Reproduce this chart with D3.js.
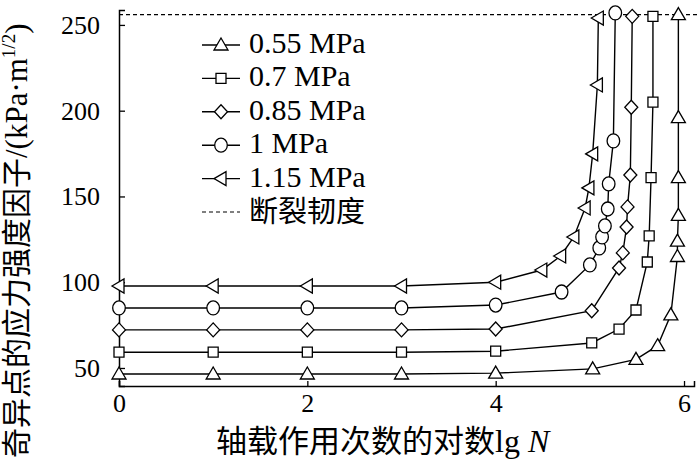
<!DOCTYPE html>
<html>
<head>
<meta charset="utf-8">
<script src="https://cdn.jsdelivr.net/npm/d3@7"></script>
<style>
  html, body { margin: 0; padding: 0; background: #fff; }
  svg { display: block; }
</style>
</head>
<body>
<svg id="chart"></svg>
<script>
// series names (legend order)
const seriesNames = ['0.55 MPa', '0.7 MPa', '0.85 MPa', '1 MPa', '1.15 MPa'];
const toughnessLabel = '断裂韧度';

// lg N values per series
const lgN055 = [0, 1, 2, 3, 4, 5.03, 5.49, 5.72, 5.86, 5.93, 5.93, 5.94, 5.94, 5.94, 5.94];
const lgN070 = [0, 1, 2, 3, 4, 5.02, 5.31, 5.49, 5.61, 5.63, 5.65, 5.67, 5.67];
const lgN085 = [0, 1, 2, 3, 4, 5.02, 5.31, 5.35, 5.39, 5.40, 5.43, 5.44, 5.45];
const lgN100 = [0, 1, 2, 3, 4, 4.70, 5.00, 5.10, 5.13, 5.16, 5.19, 5.20, 5.25, 5.27];
const lgN115 = [0, 1, 2, 3, 4, 4.49, 4.69, 4.83, 4.95, 4.99, 5.03, 5.08, 5.09];

// stress intensity factor (kPa·m^1/2) per series
const k055 = [46.5, 46.5, 46.5, 46.5, 47, 49.5, 55, 63, 81, 115, 124, 139, 161, 196, 256];
const k070 = [59.2, 59.2, 59.2, 59.2, 59.8, 64.6, 72.7, 83.8, 111.8, 127, 161, 205, 255];
const k085 = [72.2, 72.2, 72.2, 72.2, 72.7, 83.4, 108.3, 117.1, 132.2, 143.9, 162.5, 202, 255];
const k100 = [85, 85, 85, 85, 86.7, 94.3, 110.1, 120, 126.4, 132.8, 142.7, 157.3, 182.4, 257];
const k115 = [97.8, 97.8, 97.8, 97.8, 100, 107.1, 115.3, 126.4, 143.3, 155, 174.8, 215, 254];

const fractureToughness = 256;

// axis ticks
const xTicks = [0, 2, 4, 6];
const yTicks = [50, 100, 150, 200, 250];

const width = 700;
const height = 464;
const margin = { top: 10, right: 6, bottom: 78, left: 119 };
const innerWidth = width - margin.left - margin.right;
const innerHeight = height - margin.top - margin.bottom;

const serif = '"Liberation Serif", "Times New Roman", serif';
const cjk = '"Noto Sans CJK SC", sans-serif';

const svg = d3.select('#chart').attr('width', width).attr('height', height);
const g = svg.append('g').attr('transform', `translate(${margin.left},${margin.top})`);

const x = d3.scaleLinear().domain([0, 6.106]).range([0, innerWidth]);
const y = d3.scaleLinear().domain([39.5, 258.7]).range([innerHeight, 0]);

// marker shapes
const shapes = [
  'M0,-7L7,5L-7,5Z',           // triangle up
  'M-5,-5H5V5H-5Z',            // square
  'M0,-7L6.5,0L0,7L-6.5,0Z',   // diamond
  null,                        // circle (ellipse)
  'M-7,0L5,-7L5,7Z'            // triangle left
];

function drawMarker(sel, i) {
  if (shapes[i]) {
    sel.append('path').attr('d', shapes[i]);
  } else {
    sel.append('ellipse').attr('rx', 6.3).attr('ry', 7);
  }
}

// axes
const xAxis = g.append('g')
  .attr('transform', `translate(0,${innerHeight})`)
  .call(d3.axisBottom(x).tickValues(xTicks).tickSize(-5).tickPadding(8).tickFormat(d3.format('d')));
const yAxis = g.append('g')
  .call(d3.axisLeft(y).tickValues(yTicks).tickSize(-6).tickPadding(19).tickFormat(d3.format('d')));

[xAxis, yAxis].forEach(a => {
  a.select('.domain').attr('stroke', '#000').attr('stroke-width', 1.5);
  a.selectAll('.tick line').attr('stroke', '#000').attr('stroke-width', 1.3);
  a.selectAll('.tick text').attr('fill', '#000').style('font-family', serif).style('font-size', '26px');
});

// fracture toughness line
g.append('line')
  .attr('x1', 0).attr('x2', width - margin.left)
  .attr('y1', y(fractureToughness)).attr('y2', y(fractureToughness))
  .attr('stroke', '#000').attr('stroke-width', 1.2).attr('stroke-dasharray', '4,3');

// series
const lgNs = [lgN055, lgN070, lgN085, lgN100, lgN115];
const ks = [k055, k070, k085, k100, k115];
const line = d3.line().x(d => x(d[0])).y(d => y(d[1]));

seriesNames.forEach((name, i) => {
  const pts = lgNs[i].map((v, j) => [v, ks[i][j]]);
  g.append('path')
    .datum(pts)
    .attr('fill', 'none')
    .attr('stroke', '#000')
    .attr('stroke-width', 1.4)
    .attr('d', line);
  const m = g.append('g')
    .selectAll('g')
    .data(pts)
    .join('g')
    .attr('transform', d => `translate(${x(d[0])},${y(d[1])})`)
    .attr('fill', '#fff').attr('stroke', '#000').attr('stroke-width', 1.3);
  m.each(function () { drawMarker(d3.select(this), i); });
});

// legend
const legend = svg.append('g');
const rowY = i => 45 + i * 33.4;
seriesNames.forEach((name, i) => {
  const row = legend.append('g').attr('transform', `translate(0,${rowY(i)})`);
  row.append('line').attr('x1', 202).attr('x2', 240).attr('stroke', '#000').attr('stroke-width', 1.4);
  const mk = row.append('g').attr('transform', 'translate(221,0)')
    .attr('fill', '#fff').attr('stroke', '#000').attr('stroke-width', 1.3);
  drawMarker(mk, i);
  row.append('text').attr('x', 249).attr('y', 8)
    .style('font-family', serif).style('font-size', '30px').text(name);
});
const tRow = legend.append('g').attr('transform', `translate(0,${rowY(5)})`);
tRow.append('line').attr('x1', 202).attr('x2', 240)
  .attr('stroke', '#000').attr('stroke-width', 1.2).attr('stroke-dasharray', '4,3');
tRow.append('text').attr('x', 249).attr('y', 10)
  .style('font-family', cjk).style('font-size', '29px').text(toughnessLabel);

// x label
const xl = svg.append('text').attr('x', 216).attr('y', 452).style('font-size', '31px');
xl.append('tspan').style('font-family', cjk).text('轴载作用次数的对数');
xl.append('tspan').style('font-family', serif).style('font-size', '32px').text('lg ');
xl.append('tspan').style('font-family', serif).style('font-style', 'italic').style('font-size', '32px').text('N');

// y label
const yl = svg.append('text')
  .attr('transform', 'translate(27,458) rotate(-90)')
  .style('font-size', '30px');
yl.append('tspan').style('font-family', cjk).text('奇异点的应力强度因子');
yl.append('tspan').style('font-family', serif).style('font-size', '31px').text('/(kPa·m');
yl.append('tspan').style('font-family', serif).style('font-size', '19px').attr('dy', -12).text('1/2');
yl.append('tspan').style('font-family', serif).style('font-size', '31px').attr('dy', 12).text(')');
</script>
</body>
</html>
